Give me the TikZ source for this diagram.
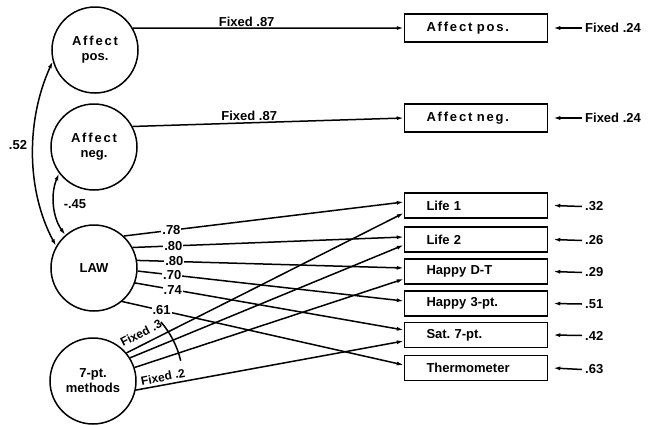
\documentclass[tikz,border=0pt]{standalone}
\usepackage{fontspec}
\setmainfont{Liberation Sans}
\usetikzlibrary{arrows.meta,calc}
\frenchspacing
\newcommand\widetxt[1]{{\addfontfeatures{LetterSpace=14}#1}}
\begin{document}
\begin{tikzpicture}[x=1pt,y=1pt,
  lw/.style={line width=1.5pt},
  latent/.style={circle, draw, line width=1.5pt, minimum size=86pt, inner sep=0pt, align=center, font=\bfseries\fontsize{13}{15}\selectfont},
  obs/.style={rectangle, draw, line width=1.5pt, minimum height=25pt, text width=99pt, inner xsep=22pt, align=left, font=\bfseries\fontsize{13}{15}\selectfont},
  arr/.style={line width=1.5pt, -{Latex[length=7pt,width=4pt]}},
  darr/.style={line width=1.5pt, {Latex[length=7pt,width=4pt]}-{Latex[length=7pt,width=4pt]}},
  lab/.style={font=\bfseries\fontsize{13}{15}\selectfont, inner sep=1pt},
]
\useasboundingbox (0,0) rectangle (651,-424);
% latent variables
\node[latent] (AP) at (95,-50) {\widetxt{Affect}\\pos.};
\node[latent] (AN) at (94,-147) {\widetxt{Affect}\\neg.};
\node[latent] (LAW) at (94,-268) {LAW};
\node[latent] (M) at (93,-381) {7-pt.\\methods};
% observed
\node[obs, minimum height=28pt] (bAP) at (476,-28) {\widetxt{Affect pos.}};
\node[obs, minimum height=28pt] (bAN) at (476,-118) {\widetxt{Affect neg.}};
\node[obs] (b1) at (476,-205.5) {Life 1};
\node[obs] (b2) at (476,-239.5) {Life 2};
\node[obs] (b3) at (476,-271.5) {Happy D-T};
\node[obs] (b4) at (476,-303.5) {Happy 3-pt.};
\node[obs] (b5) at (476,-335) {Sat. 7-pt.};
\node[obs] (b6) at (476,-368) {Thermometer};
% residuals
\node[lab, anchor=west] (r0) at (584,-28) {Fixed .24};
\node[lab, anchor=west] (r1) at (584,-118) {Fixed .24};
\node[lab, anchor=west] (r2) at (584,-206.5) {.32};
\node[lab, anchor=west] (r3) at (584,-240.5) {.26};
\node[lab, anchor=west] (r4) at (584,-272.5) {.29};
\node[lab, anchor=west] (r5) at (584,-304) {.51};
\node[lab, anchor=west] (r6) at (584,-335.5) {.42};
\node[lab, anchor=west] (r7) at (584,-369.5) {.63};
\draw[arr] ([xshift=-2pt]r0.west) -- ([xshift=5pt]bAP.east);
\draw[arr] ([xshift=-2pt]r1.west) -- ([xshift=5pt]bAN.east);
\draw[arr] ([xshift=-2pt]r2.west) -- ([xshift=5pt]b1.east);
\draw[arr] ([xshift=-2pt]r3.west) -- ([xshift=5pt]b2.east);
\draw[arr] ([xshift=-2pt]r4.west) -- ([xshift=5pt]b3.east);
\draw[arr] ([xshift=-2pt]r5.west) -- ([xshift=5pt]b4.east);
\draw[arr] ([xshift=-2pt]r6.west) -- ([xshift=5pt]b5.east);
\draw[arr] ([xshift=-2pt]r7.west) -- ([xshift=5pt]b6.east);
% affect loadings
\draw[arr] (AP.30) -- node[lab, above, pos=0.42]{Fixed .87} (bAP.west);
\draw[arr] (AN.28) -- node[lab, above, pos=0.43]{Fixed .87} (bAN.west);
% LAW loadings
\draw[arr] (LAW.47) -- node[lab, fill=white, pos=0.17]{.78} ([yshift=3.5pt]b1.west);
\draw[arr] (LAW.28) -- node[lab, fill=white, pos=0.15]{.80} ([yshift=2.5pt]b2.west);
\draw[arr] (LAW.10) -- node[lab, fill=white, pos=0.14]{.80} ([yshift=3.5pt]b3.west);
\draw[arr] (LAW.-4) -- node[lab, fill=white, pos=0.13]{.70} ([yshift=2.5pt]b4.west);
\draw[arr] (LAW.-20) -- node[lab, fill=white, pos=0.14]{.74} ([yshift=5pt]b5.west);
\draw[arr] (LAW.-50) -- node[lab, fill=white, pos=0.14]{.61} ([yshift=3pt]b6.west);
% methods loadings
\draw[arr] (M.40) -- ([yshift=-7.5pt]b1.west);
\draw[arr] (M.32) -- ([yshift=-5.5pt]b2.west);
\draw[arr] (M.18) -- ([yshift=-7.5pt]b3.west);
\draw[arr] (M.-12) -- ([yshift=-6pt]b5.west);
\node[lab, rotate=27, font=\bfseries\fontsize{12}{14}\selectfont] (f3) at (141,-333) {Fixed .3};
\node[lab, rotate=11, font=\bfseries\fontsize{12}{14}\selectfont] (f2) at (163,-377) {Fixed .2};
\draw[lw] ($(M.center)+(41:90pt)$) arc[start angle=41, end angle=13, radius=90pt];
% correlations
\draw[darr] (AP.195) .. controls (26,-120) and (26,-190) .. (LAW.150);
\node[lab] (l52) at (18,-145) {.52};
\draw[darr] (AN.217) .. controls (50,-195) and (53,-218) .. (LAW.131);
\node[lab] (l45) at (75,-204) {-.45};
\end{tikzpicture}
\end{document}
